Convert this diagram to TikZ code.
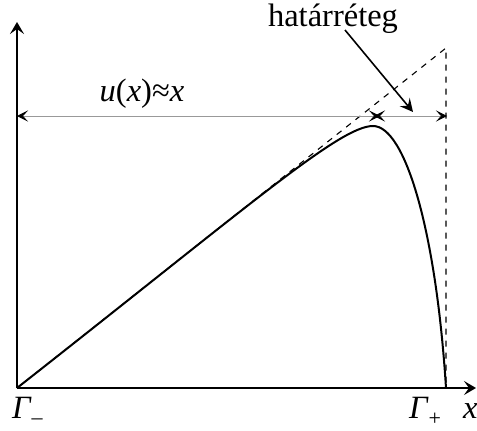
\documentclass[tikz,border=0pt]{standalone}
\usepackage{fontspec}
\setmainfont{Liberation Serif}
\usetikzlibrary{arrows.meta}
\begin{document}
\begin{tikzpicture}[x=1pt,y=-1pt,
  axis/.style={line width=2pt,-{Stealth[length=12pt,width=14pt,inset=5pt]}},
  dtip/.tip={Stealth[length=11pt,width=11pt,inset=5pt,color=black]},
  dim/.style={line width=0.8pt,draw=black!40,dtip-dtip},
  dsh/.style={line width=1.1pt,dash pattern=on 6pt off 6pt},
  curve/.style={line width=2pt},
  lbl/.style={inner sep=0pt,font=\fontsize{32.5}{38}\selectfont}]
\useasboundingbox (0,0) rectangle (477,431);
\coordinate (O) at (17,388);
\coordinate (Y) at (17,22);
\coordinate (X) at (476,388);
\coordinate (T) at (446,48);
\coordinate (B) at (446,388);
\coordinate (L) at (17,116);
\coordinate (M1) at (380,116);
\coordinate (M2) at (374,116);
\coordinate (R) at (447,116);
\coordinate (P) at (373,126);
\coordinate (A1) at (345,30);
\coordinate (A2) at (413,112);
% dashed
\draw[dsh] (O) -- (T) -- (B);
% axes
\draw[axis] (O) -- (Y);
\draw[axis] (O) -- (X);
% dimension lines
\draw[dim] (L) -- (M1);
\draw[dim] (M2) -- (R);
% curve
\draw[curve] (O) .. controls (250,205) and (340,126) .. (P)
  .. controls (405,126) and (436,230) .. (B);
% labels
\node[lbl,anchor=base] (hat) at (333,27) {határréteg};
\draw[line width=1.6pt,-{Stealth[length=13pt,width=13pt,inset=5pt]}] (A1) -- (A2);
\node[lbl,anchor=base] (ulab) at (142,101) {\textit{u}(\textit{x})≈\textit{x}};
\node[lbl,anchor=base west] (gm) at (12,418) {\textit{Γ}\raisebox{-6pt}{\fontsize{22}{24}\selectfont –}};
\node[lbl,anchor=base west] (gp) at (409,418) {\textit{Γ}\raisebox{-7pt}{\fontsize{22}{24}\selectfont +}};
\node[lbl,anchor=base west] (xl) at (463,418) {\textit{x}};
\end{tikzpicture}
\end{document}
